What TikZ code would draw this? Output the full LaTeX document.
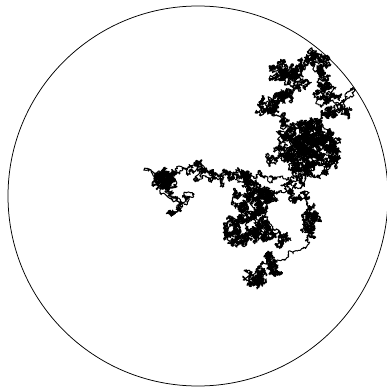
\documentclass[tikz,border=0pt]{standalone}
\newdimen\wx \newdimen\wy \newdimen\tx \newdimen\ty \newdimen\wstep
\newcount\wrem \newcount\wchunk
\makeatletter
\newcommand{\wstart}[2]{\global\wx=#1pt \global\wy=#2pt \global\wchunk=0
  \pgfpathmoveto{\pgfqpoint{\wx}{-\wy}}}
\newcommand{\wto}[3]{% x y n : Brownian bridge to (x,y) in n steps
  \tx=#1pt \ty=#2pt \wrem=#3
  \loop
    \global\advance\wx by \dimexpr(\tx-\wx)/\wrem\relax
    \global\advance\wy by \dimexpr(\ty-\wy)/\wrem\relax
    \pgfmathrand \global\advance\wx by \pgfmathresult\wstep
    \pgfmathrand \global\advance\wy by \pgfmathresult\wstep
    \pgfpathlineto{\pgfqpoint{\wx}{-\wy}}%
    \global\advance\wchunk by 1
    \ifnum\wchunk>120
      \pgfusepath{stroke}\global\wchunk=0
      \pgfpathmoveto{\pgfqpoint{\wx}{-\wy}}%
    \fi
    \advance\wrem by -1
  \ifnum\wrem>0 \repeat}
\newcommand{\wlist}[2]{\foreach \a/\b in {#2}{\wto{\a}{\b}{#1}}}
\newcommand{\wend}{\pgfusepath{stroke}}
\makeatother
\begin{document}
\begin{tikzpicture}[x=1pt,y=-1pt]
\useasboundingbox (0,0) rectangle (387,390);
\pgfmathsetseed{4711}
\draw[line width=0.75pt] (198,196) circle (190pt);
\pgfsetlinewidth{1pt}\pgfsetroundcap\pgfsetroundjoin
\wstep=1.5pt
\wstart{249}{286}
% lower tail
\wlist{150}{252/278,262/272,266/282,255/284,262/272,270/268,268/258,276/262,272/272,268/260}
\wlist{10}{283/260,288/254,297/251,306/247,306/240}
% right lobe
\wlist{120}{304/230,310/220,316/214,320/222,310/230,304/222,316/216,308/208}
\wlist{110}{306/195,296/200,292/190,300/183}
% central mass below
\wlist{190}{285/190,272/198,262/190,250/195,243/205,252/215,262/205,272/198,260/188,245/195,240/210,232/222,226/232,232/232,240/242,247/232,238/218,228/228,238/236,255/235,268/238,280/240,270/238,255/228,264/222,256/205,248/212,260/228,266/220,260/200,250/188,245/180,250/176,243/176}
% left arm
\wlist{80}{234/178,225/170,216/176,212/178,205/172,198/162,202/172,190/168}
\wlist{12}{178/166,172/175}
\wlist{120}{160/176,156/175,160/178,165/176,172/178,168/186,162/186,168/176,160/178,164/188}
\wlist{8}{150/170,145/169,155/176}
\wlist{30}{172/198,178/205,186/198,193/194,186/205,178/208,172/214,168/212,172/215,178/208,175/198}
\wlist{80}{164/186,172/176,190/170,205/175,225/172,245/172}
% upward connection
\wlist{60}{256/176,275/180,290/182,300/172}
% dense mass
\foreach \i in {1,2}{
\wlist{130}{305/128,322/134,336/150,325/165,305/172,288/158,284/140,300/124,320/122,332/140,322/158,305/172,298/150,310/140,320/150,305/155,315/135,300/145,312/165,290/138,310/126,338/150,326/166,312/150,300/170,288/150,305/140,330/132,318/145,300/130,292/150}
}
\wlist{60}{280/152,268/158,274/160,284/150}
% top ring
\wlist{120}{290/135,286/125,287/120,272/112,266/108,258/112,268/102,275/105,280/98,268/98,272/106,283/100,284/92,292/96,298/86,292/80,304/82,295/76,288/72,277/75,270/78,272/70,278/72,285/66,293/64,300/70,290/78,302/66,306/60,313/54,318/60,326/64,322/72,312/62,307/60,318/68,318/82,328/80,322/92,330/87,334/95,324/98,322/106,330/100}
\wlist{12}{342/106,346/97,350/92,354/88,352/96,344/104}
\wlist{110}{342/112,336/112,330/108,335/116,325/112,318/120,312/125}
\wend
\end{tikzpicture}
\end{document}
